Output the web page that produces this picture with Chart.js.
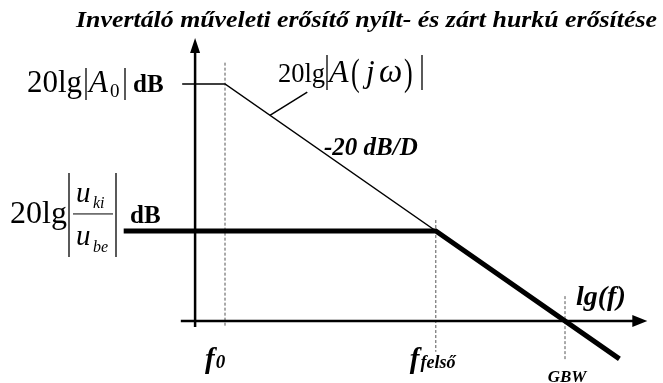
<!DOCTYPE html>
<html>
<head>
<meta charset="utf-8">
<script src="https://cdn.jsdelivr.net/npm/chart.js@4.4.1/dist/chart.umd.min.js"></script>
<style>
  html, body { margin: 0; padding: 0; background: #fff; }
  #wrap { width: 663px; height: 383px; }
</style>
</head>
<body>
<div id="wrap"><canvas id="bode"></canvas></div>
<script>
// x: lg(f) in decades, y: gain in dB
const breakNames = ['f0', 'ffelső', 'GBW'];
const breakLgF = [1, 4.1, 6];
const guideTopDb = [109, 42.6, 10.5];
const guideBottomDb = [-2.5, -13, -16.5];

const openLoopLgF = [0.37, 1, 6];
const openLoopDb = [100, 100, 0];
const closedLoopLgF = [-0.49, 4.1, 6.8];
const closedLoopDb = [38, 38, -16];
const leaderLgF = [1.66, 2.21];
const leaderDb = [86.8, 96.6];

const xAxisLgF = [0.35, 7.21];
const yAxisLgF = 0.56;
const yAxisDb = [-2.5, 119.4];

const SERIF = '"Liberation Serif", "Times New Roman", serif';

function pts(xs, ys) {
  return xs.map((x, i) => ({ x: x, y: ys[i] }));
}

function line(data, width, dash, color) {
  return {
    data: data,
    borderColor: color || '#000',
    borderWidth: width,
    borderDash: dash || [],
    pointRadius: 0,
    tension: 0,
    fill: false
  };
}

const datasets = [
  line(pts(closedLoopLgF, closedLoopDb), 5),
  line(pts(openLoopLgF, openLoopDb), 1.5),
  line(pts(leaderLgF, leaderDb), 1.5)
];
breakLgF.forEach((lg, i) => {
  datasets.push(line([{ x: lg, y: guideTopDb[i] }, { x: lg, y: guideBottomDb[i] }], 1, [3, 2], '#555'));
});

function txt(ctx, s, x, y, font) {
  ctx.font = font;
  ctx.fillText(s, x, y);
  return x + ctx.measureText(s).width;
}

function vbar(ctx, x, y1, y2) {
  ctx.beginPath();
  ctx.moveTo(x, y1);
  ctx.lineTo(x, y2);
  ctx.stroke();
}

// tall thin bracket glyph
function paren(ctx, s, x, y) {
  ctx.save();
  ctx.translate(x, y);
  ctx.scale(1, 1.45);
  txt(ctx, s, 0, 0, '26px ' + SERIF);
  ctx.restore();
}

const decor = {
  id: 'decor',
  afterDatasetsDraw(chart) {
    const ctx = chart.ctx;
    const sx = chart.scales.x, sy = chart.scales.y;
    const X = v => sx.getPixelForValue(v);
    const Y = v => sy.getPixelForValue(v);
    ctx.save();
    ctx.fillStyle = '#000';
    ctx.strokeStyle = '#000';
    ctx.textBaseline = 'alphabetic';

    // axes with arrow heads
    ctx.lineWidth = 2.5;
    const x0 = X(yAxisLgF), yTop = Y(yAxisDb[1]);
    vbar(ctx, x0, Y(yAxisDb[0]), yTop + 10);
    ctx.beginPath();
    ctx.moveTo(x0, yTop);
    ctx.lineTo(x0 - 5, yTop + 15);
    ctx.lineTo(x0 + 5, yTop + 15);
    ctx.closePath();
    ctx.fill();

    const y0 = Y(0), xEnd = X(xAxisLgF[1]);
    ctx.beginPath();
    ctx.moveTo(X(xAxisLgF[0]), y0);
    ctx.lineTo(xEnd - 10, y0);
    ctx.stroke();
    ctx.beginPath();
    ctx.moveTo(xEnd, y0);
    ctx.lineTo(xEnd - 15, y0 - 6);
    ctx.lineTo(xEnd - 15, y0 + 6);
    ctx.closePath();
    ctx.fill();

    // title, squeezed to its width
    ctx.save();
    ctx.font = 'bold italic 23px ' + SERIF;
    const title = 'Invertáló műveleti erősítő nyílt- és zárt hurkú erősítése';
    const tw = ctx.measureText(title).width;
    ctx.translate(76, 27);
    ctx.scale(581 / tw, 1.04);
    ctx.fillText(title, 0, 0);
    ctx.restore();

    ctx.lineWidth = 1.3;

    // 20lg|A0| dB
    let by = Y(openLoopDb[0]) + 8;
    txt(ctx, '20lg', 27, by, '31px ' + SERIF);
    vbar(ctx, 86, by - 24, by + 8);
    txt(ctx, 'A', 89, by, 'italic 31px ' + SERIF);
    txt(ctx, '0', 110, by + 5, '19px ' + SERIF);
    vbar(ctx, 125, by - 24, by + 8);
    txt(ctx, 'dB', 133, by, 'bold 25px ' + SERIF);

    // 20lg|uki/ube| dB
    by = Y(closedLoopDb[0]) - 8;
    txt(ctx, '20lg', 10, by, '32px ' + SERIF);
    vbar(ctx, 69, by - 50, by + 34);
    vbar(ctx, 116, by - 50, by + 34);
    txt(ctx, 'u', 76, by - 21, 'italic 29px ' + SERIF);
    txt(ctx, 'ki', 93, by - 15, 'italic 16px ' + SERIF);
    ctx.lineWidth = 1;
    ctx.beginPath();
    ctx.moveTo(73, by - 9);
    ctx.lineTo(113, by - 9);
    ctx.stroke();
    txt(ctx, 'u', 76, by + 22, 'italic 29px ' + SERIF);
    txt(ctx, 'be', 93, by + 29, 'italic 16px ' + SERIF);
    txt(ctx, 'dB', 130, by, 'bold 25px ' + SERIF);

    // 20lg|A(jω)|
    ctx.lineWidth = 1.3;
    by = 82;
    txt(ctx, '20lg', 278, by, '26.5px ' + SERIF);
    vbar(ctx, 327, 55, 90);
    txt(ctx, 'A', 329, by, 'italic 32px ' + SERIF);
    paren(ctx, '(', 351, by + 3);
    txt(ctx, 'j', 366, by, 'italic 31px ' + SERIF);
    txt(ctx, 'ω', 379, by, 'italic 33px ' + SERIF);
    paren(ctx, ')', 404, by + 3);
    vbar(ctx, 422, 55, 90);

    // slope
    txt(ctx, '-20 dB/D', 324, 155, 'bold italic 25px ' + SERIF);

    // lg(f)
    txt(ctx, 'lg(f)', 576, 305, 'bold italic 28px ' + SERIF);

    // frequency marks
    const fy = 368;
    let nx = txt(ctx, 'f', X(breakLgF[0]) - 20, fy, 'bold italic 29px ' + SERIF);
    txt(ctx, '0', nx + 1, fy, 'bold italic 19px ' + SERIF);
    nx = txt(ctx, 'f', X(breakLgF[1]) - 26, fy, 'bold italic 29px ' + SERIF);
    txt(ctx, 'felső', nx + 1, fy, 'bold italic 18px ' + SERIF);
    ctx.textAlign = 'center';
    txt(ctx, breakNames[2], X(breakLgF[2]) + 2, 382, 'bold italic 17px ' + SERIF);

    ctx.restore();
  }
};

new Chart(document.getElementById('bode'), {
  type: 'line',
  data: { datasets: datasets },
  options: {
    responsive: true,
    maintainAspectRatio: false,
    animation: false,
    events: [],
    layout: { padding: 0 },
    plugins: { legend: { display: false }, tooltip: { enabled: false }, title: { display: false } },
    scales: {
      x: { type: 'linear', display: false, min: -2.309, max: 7.441 },
      y: { type: 'linear', display: false, min: -26.16, max: 135.44 }
    }
  },
  plugins: [decor]
});
</script>
</body>
</html>
